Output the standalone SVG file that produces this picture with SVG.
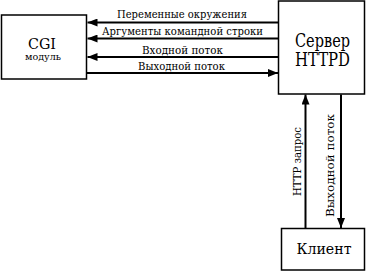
<svg xmlns="http://www.w3.org/2000/svg" width="367" height="272" viewBox="0 0 367 272">
<style>
.box{fill:#fff;stroke:#000;stroke-width:1.5}
.ln{stroke:#000;stroke-width:2;fill:none}
.lbl{font-size:11px}
.big{font-size:18px;text-anchor:middle}
text{font-family:"DejaVu Serif","Liberation Serif",serif}
</style>
<defs>
<marker id="ah" markerWidth="10" markerHeight="8" refX="10" refY="4" orient="auto" markerUnits="userSpaceOnUse">
<path d="M0,0 L10,4 L0,8 Z" fill="#000"/>
</marker>
</defs>
<rect width="367" height="272" fill="#fff"/>
<g fill="#000">
<g id="cgi">
<rect class="box" x="1.5" y="15" width="85" height="64"/>
<text x="42" y="48.5" font-size="15" text-anchor="middle" textLength="28" lengthAdjust="spacingAndGlyphs">CGI</text>
<text x="43" y="59.5" font-size="9" text-anchor="middle" textLength="36" lengthAdjust="spacingAndGlyphs">модуль</text>
</g>
<g id="server">
<rect class="box" x="278.5" y="1" width="86" height="93"/>
<text class="big" x="322.5" y="47" textLength="55" lengthAdjust="spacingAndGlyphs">Сервер</text>
<text class="big" x="322.5" y="66" textLength="55" lengthAdjust="spacingAndGlyphs">HTTPD</text>
</g>
<g id="client">
<rect class="box" x="281.5" y="228.5" width="83" height="41.5"/>
<text x="324" y="254" font-size="15" text-anchor="middle" textLength="55" lengthAdjust="spacingAndGlyphs">Клиент</text>
</g>
<g id="connectors">
<line class="ln" x1="278" y1="22.5" x2="87.5" y2="22.5" marker-end="url(#ah)"/>
<line class="ln" x1="278" y1="38.5" x2="87.5" y2="38.5" marker-end="url(#ah)"/>
<line class="ln" x1="278" y1="57" x2="87.5" y2="57" marker-end="url(#ah)"/>
<line class="ln" x1="87" y1="73" x2="278" y2="73" marker-end="url(#ah)"/>
<line class="ln" x1="305.5" y1="228" x2="305.5" y2="94.5" marker-end="url(#ah)"/>
<line class="ln" x1="341" y1="94.5" x2="341" y2="228" marker-end="url(#ah)"/>
<text class="lbl" x="117" y="18" textLength="130" lengthAdjust="spacingAndGlyphs">Переменные окружения</text>
<text class="lbl" x="102" y="34.5" textLength="161" lengthAdjust="spacingAndGlyphs">Аргументы командной строки</text>
<text class="lbl" x="142" y="54" textLength="81" lengthAdjust="spacingAndGlyphs">Входной поток</text>
<text class="lbl" x="138" y="69.5" textLength="87" lengthAdjust="spacingAndGlyphs">Выходной поток</text>
<text class="lbl" transform="translate(301,196) rotate(-90)" textLength="69" lengthAdjust="spacingAndGlyphs">HTTP запрос</text>
<text class="lbl" transform="translate(334,217) rotate(-90)" textLength="103" lengthAdjust="spacingAndGlyphs">Выходной поток</text>
</g>
</g>
</svg>
